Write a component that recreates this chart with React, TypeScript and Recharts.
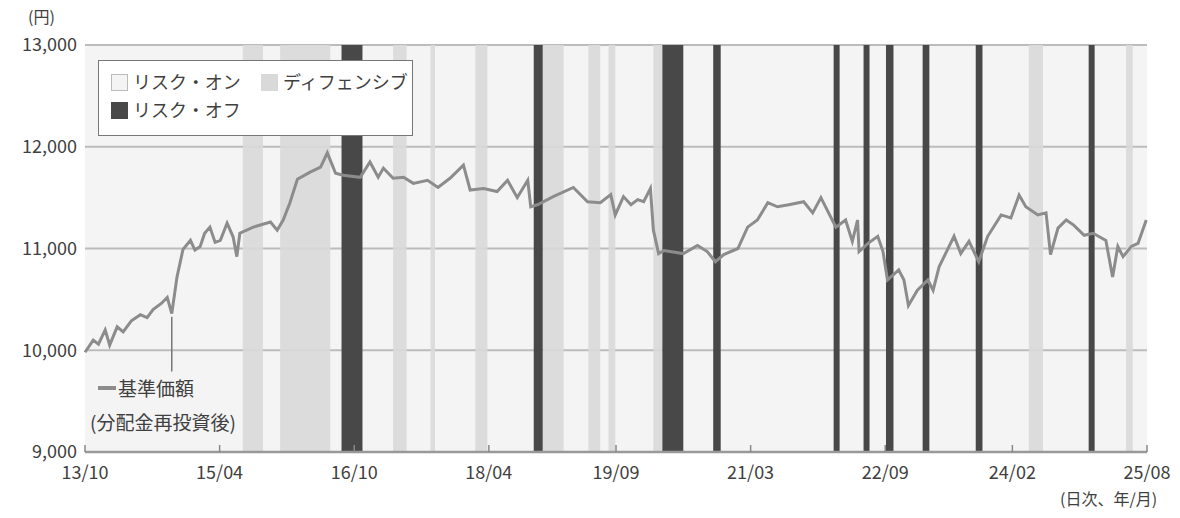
import React from 'react';
import {
  ComposedChart,
  Line,
  XAxis,
  YAxis,
  CartesianGrid,
  ReferenceArea,
  ReferenceLine,
} from 'recharts';

// x = months since 2013/10
const monthIdx = [
  0, 1.1, 1.8, 2.7, 3.3, 4.3, 5.1, 6.2, 7.4, 8.3, 9.1, 10.2, 11.0, 11.6, 12.3, 13.1, 14.1, 14.7, 15.4, 16.0,
  16.7, 17.4, 18.1, 19.0, 19.8, 20.3, 20.7, 22.5, 24.8, 25.7, 26.5, 27.4, 28.4, 30.1, 31.5, 32.4, 33.5, 34.5, 36.8, 38.1,
  39.2, 39.9, 41.2, 42.6, 43.9, 45.8, 47.2, 48.8, 50.6, 51.5, 53.3, 55.1, 56.5, 57.8, 59.2, 59.6, 60.5, 62.6, 65.3, 67.2,
  68.9, 70.3, 70.9, 72.0, 73.0, 73.9, 74.7, 75.6, 76.0, 76.7, 77.4, 80.0, 81.9, 83.2, 84.3, 85.4, 87.3, 88.6, 89.9, 91.3,
  92.6, 94.1, 96.1, 97.3, 98.4, 100.4, 101.7, 102.6, 103.3, 103.5, 104.7, 106.0, 106.7, 107.3, 108.8, 109.5, 110.1, 111.3, 112.7, 113.4,
  114.2, 116.2, 117.1, 118.2, 119.5, 120.7, 122.5, 123.8, 124.9, 125.8, 127.4, 128.5, 129.1, 130.1, 131.2, 132.2, 133.6, 134.8, 136.5, 137.4,
  138.1, 138.8, 139.9, 140.8, 141.9,
];

const nav = [
  9980, 10100, 10060, 10200, 10050, 10230, 10180, 10290, 10350, 10320, 10400, 10460, 10520, 10360, 10720, 10990, 11080, 10985, 11020, 11150,
  11210, 11060, 11080, 11250, 11115, 10920, 11150, 11210, 11260, 11180, 11280, 11450, 11680, 11750, 11800, 11940, 11740, 11720, 11700, 11850,
  11700, 11790, 11690, 11700, 11640, 11670, 11600, 11690, 11820, 11575, 11590, 11560, 11670, 11500, 11670, 11410, 11430, 11510, 11600, 11460,
  11450, 11530, 11330, 11510, 11430, 11480, 11460, 11590, 11180, 10950, 10980, 10950, 11030, 10970, 10870, 10940, 11000, 11210, 11280, 11450,
  11410, 11430, 11460, 11350, 11500, 11210, 11280, 11070, 11280, 10970, 11050, 11120, 10970, 10690, 10790, 10690, 10440, 10590, 10690, 10590,
  10820, 11120, 10950, 11070, 10870, 11120, 11330, 11300, 11525, 11410, 11330, 11350, 10940, 11200, 11280, 11230, 11130, 11150, 11080, 10720,
  11020, 10920, 11020, 11050, 11280,
];

const defensiveStart = [21.1, 26.1, 41.2, 46.2, 52.2, 61.2, 67.3, 70.0, 76.0, 126.2, 139.2];
const defensiveEnd = [23.8, 32.8, 43.0, 46.8, 53.8, 64.0, 68.9, 70.9, 77.2, 128.1, 140.1];

const riskOffStart = [34.3, 60.0, 77.2, 84.0, 100.1, 104.1, 107.1, 112.0, 119.1, 134.2];
const riskOffEnd = [37.1, 61.2, 80.0, 85.0, 100.9, 104.9, 108.1, 112.9, 120.0, 135.0];

const xTicks = [0, 18, 36, 54, 71, 89, 107, 124, 142];
const xTickLabels = ['13/10', '15/04', '16/10', '18/04', '19/09', '21/03', '22/09', '24/02', '25/08'];
const yTicks = [9000, 10000, 11000, 12000, 13000];

const data = monthIdx.map((t, i) => ({ t, nav: nav[i] }));

const FONT = '"Noto Sans CJK JP", "Noto Sans", sans-serif';
const TEXT = '#404040';
const RISK_ON = '#f4f4f4';
const DEFENSIVE = '#d9d9d9';
const RISK_OFF = '#484848';

const XTick = (props: any) => {
  const { x, y, payload } = props;
  const i = xTicks.indexOf(payload.value);
  return (
    <g>
      <line x1={x} x2={x} y1={y - 7} y2={y} stroke="#888" strokeWidth={1.5} />
      <text x={x} y={y + 27} textAnchor="middle" fill={TEXT} fontSize={18} fontFamily={FONT}>
        {xTickLabels[i]}
      </text>
    </g>
  );
};

const Swatch = ({ color, border }: { color: string; border?: boolean }) => (
  <span
    style={{
      display: 'inline-block',
      width: 17,
      height: 17,
      background: color,
      border: border ? '1px solid #bbb' : 'none',
      boxSizing: 'border-box',
      marginRight: 5,
      verticalAlign: -2,
    }}
  />
);

export default function App() {
  return (
    <div style={{ position: 'absolute', left: 0, top: 0, width: 1180, height: 518, background: '#fff', fontFamily: FONT }}>
      <ComposedChart width={1180} height={518} data={data} margin={{ top: 45, right: 33, bottom: 0, left: 0 }}>
        <CartesianGrid vertical={false} stroke="#bcbcbc" strokeWidth={2} fill={RISK_ON} />
        {defensiveStart.map((s, i) => (
          <ReferenceArea key={`d${i}`} x1={s} x2={defensiveEnd[i]} y1={9000} y2={13000} fill={DEFENSIVE} fillOpacity={0.9} stroke="none" ifOverflow="hidden" />
        ))}
        {riskOffStart.map((s, i) => (
          <ReferenceArea key={`r${i}`} x1={s} x2={riskOffEnd[i]} y1={9000} y2={13000} fill={RISK_OFF} fillOpacity={1} stroke="none" ifOverflow="hidden" />
        ))}
        <XAxis
          type="number"
          dataKey="t"
          domain={[0, 142]}
          ticks={xTicks}
          interval={0}
          tick={<XTick />}
          tickSize={0}
          tickMargin={0}
          tickLine={false}
          height={66}
          axisLine={{ stroke: '#999', strokeWidth: 2.5 }}
        />
        <YAxis
          type="number"
          domain={[9000, 13000]}
          ticks={yTicks}
          width={85}
          tickSize={0}
          tickMargin={8}
          axisLine={false}
          tickLine={false}
          tick={{ fill: TEXT, fontSize: 18, fontFamily: FONT }}
          tickFormatter={(v: number) => v.toLocaleString('en-US')}
        />
        <ReferenceLine
          segment={[{ x: 11.6, y: 10330 }, { x: 11.6, y: 9790 }]}
          stroke="#777"
          strokeWidth={1.5}
          ifOverflow="visible"
        />
        <Line
          type="linear"
          dataKey="nav"
          stroke="#8c8c8c"
          strokeWidth={3}
          dot={false}
          isAnimationActive={false}
        />
      </ComposedChart>

      <div style={{ position: 'absolute', left: 28, top: 4, fontSize: 16, color: TEXT }}>(円)</div>

      <div
        style={{
          position: 'absolute',
          left: 98,
          top: 60,
          width: 315,
          height: 76,
          background: '#fff',
          border: '1.5px solid #777',
          boxSizing: 'border-box',
          fontSize: 18,
          color: TEXT,
          lineHeight: '28px',
          padding: '6px 0 0 12px',
        }}
      >
        <div>
          <span style={{ display: 'inline-block', width: 150 }}>
            <Swatch color={RISK_ON} border />
            リスク・オン
          </span>
          <span>
            <Swatch color={DEFENSIVE} />
            ディフェンシブ
          </span>
        </div>
        <div>
          <Swatch color={RISK_OFF} />
          リスク・オフ
        </div>
      </div>

      <div style={{ position: 'absolute', left: 98, top: 374, fontSize: 19, color: TEXT, whiteSpace: 'nowrap' }}>
        <span style={{ display: 'inline-block', width: 18, height: 4, background: '#8c8c8c', verticalAlign: 6, marginRight: 2 }} />
        基準価額
      </div>
      <div style={{ position: 'absolute', left: 90, top: 408, fontSize: 19, color: TEXT, whiteSpace: 'nowrap' }}>
        (分配金再投資後)
      </div>

      <div style={{ position: 'absolute', left: 1060, top: 486, fontSize: 16, color: TEXT, whiteSpace: 'nowrap' }}>
        (日次、年/月)
      </div>
    </div>
  );
}
